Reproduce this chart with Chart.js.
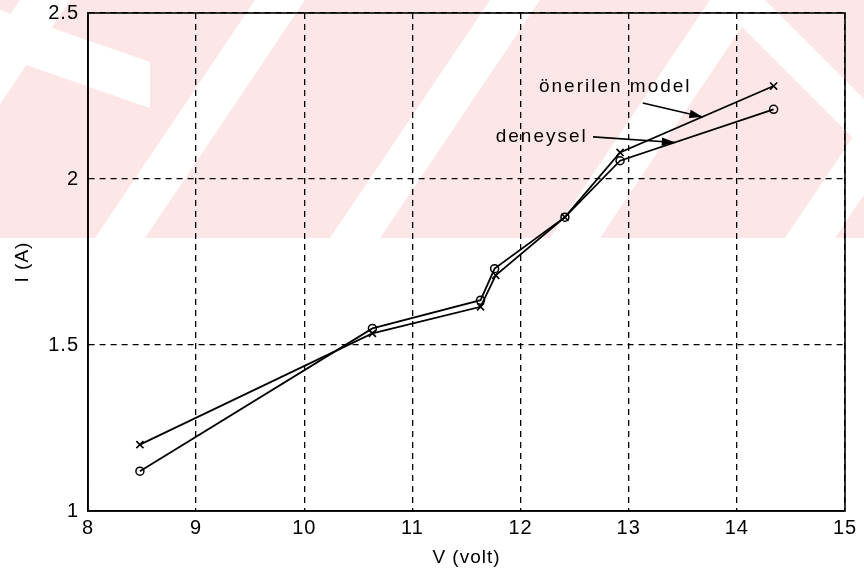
<!DOCTYPE html>
<html>
<head>
<meta charset="utf-8">
<script src="https://cdn.jsdelivr.net/npm/chart.js@4/dist/chart.umd.min.js"></script>
<style>
	html, body { margin: 0; padding: 0; background: #fff; }
	#wrap { width: 864px; height: 573px; }
</style>
</head>
<body>
<div id="wrap"><canvas id="ivChart" width="864" height="573"></canvas></div>
<script>
// values
const vModel = [8.48, 10.63, 11.63, 11.77, 12.41, 12.92, 14.34];
const iModel = [1.20, 1.535, 1.615, 1.71, 1.885, 2.08, 2.28];
const vExp = [8.48, 10.63, 11.63, 11.76, 12.41, 12.92, 14.34];
const iExp = [1.12, 1.55, 1.635, 1.73, 1.885, 2.055, 2.21];

const xTicks = [8, 9, 10, 11, 12, 13, 14, 15];
const yTicks = [1, 1.5, 2, 2.5];

const labelModel = 'önerilen model';
const labelExp = 'deneysel';

const font = 'Liberation Sans, Arial, sans-serif';

const toPoints = (xs, ys) => xs.map((x, i) => ({ x: x, y: ys[i] }));

const poly = (ctx, pts) => {
	ctx.beginPath();
	ctx.moveTo(pts[0][0], pts[0][1]);
	pts.slice(1).forEach((p) => ctx.lineTo(p[0], p[1]));
	ctx.closePath();
	ctx.fill();
};

// pale thesis watermark behind the plot, and the slightly wide letter spacing of the scan
const watermark = {
	id: 'watermark',
	beforeDraw(chart) {
		const ctx = chart.ctx;
		ctx.letterSpacing = '1px';
		ctx.save();
		ctx.fillStyle = '#fde6e8';
		ctx.fillRect(0, 0, chart.width, 238);
		ctx.fillStyle = '#ffffff';
		[-140, 95, 330, 550, 785].forEach((b) => {
			poly(ctx, [[b, 238], [b + 50, 238], [b + 210, 0], [b + 160, 0]]);
		});
		poly(ctx, [[0, 10], [150, 62], [150, 108], [0, 56]]);
		poly(ctx, [[715, 0], [765, 0], [864, 99], [864, 149]]);
		ctx.restore();
	},
};

// full box round the axes plus the two arrows with their texts
const annotations = {
	id: 'annotations',
	afterDatasetsDraw(chart) {
		const ctx = chart.ctx;
		const xs = chart.scales.x;
		const ys = chart.scales.y;
		const a = chart.chartArea;
		ctx.save();
		ctx.strokeStyle = '#000';
		ctx.lineWidth = 1.6;
		ctx.strokeRect(a.left, a.top, a.right - a.left, a.bottom - a.top);

		const arrow = (x0, y0, x1, y1) => {
			const p0 = [xs.getPixelForValue(x0), ys.getPixelForValue(y0)];
			const p1 = [xs.getPixelForValue(x1), ys.getPixelForValue(y1)];
			const ang = Math.atan2(p1[1] - p0[1], p1[0] - p0[0]);
			ctx.beginPath();
			ctx.moveTo(p0[0], p0[1]);
			ctx.lineTo(p1[0], p1[1]);
			ctx.lineWidth = 1.6;
			ctx.stroke();
			ctx.fillStyle = '#000';
			poly(ctx, [
				p1,
				[p1[0] - 14 * Math.cos(ang - 0.3), p1[1] - 14 * Math.sin(ang - 0.3)],
				[p1[0] - 14 * Math.cos(ang + 0.3), p1[1] - 14 * Math.sin(ang + 0.3)],
			]);
		};

		ctx.fillStyle = '#000';
		ctx.font = '19px ' + font;
		ctx.letterSpacing = '2px';
		ctx.textBaseline = 'middle';
		ctx.textAlign = 'left';
		ctx.fillText(labelModel, xs.getPixelForValue(12.17), ys.getPixelForValue(2.277));
		ctx.fillText(labelExp, xs.getPixelForValue(11.77), ys.getPixelForValue(2.127));
		arrow(13.13, 2.229, 13.685, 2.187);
		arrow(12.67, 2.127, 13.43, 2.11);
		ctx.restore();
	},
};

new Chart(document.querySelector('#ivChart'), {
	type: 'scatter',
	data: {
		datasets: [
			{
				label: labelModel,
				data: toPoints(vModel, iModel),
				showLine: true,
				borderColor: '#000',
				borderWidth: 1.8,
				pointStyle: 'crossRot',
				pointRadius: 5,
				pointBorderWidth: 1.6,
				pointBorderColor: '#000',
				tension: 0,
			},
			{
				label: labelExp,
				data: toPoints(vExp, iExp),
				showLine: true,
				borderColor: '#000',
				borderWidth: 1.8,
				pointStyle: 'circle',
				pointRadius: 4,
				pointBorderWidth: 1.5,
				pointBorderColor: '#000',
				pointBackgroundColor: 'rgba(255,255,255,0)',
				tension: 0,
			},
		],
	},
	options: {
		responsive: false,
		animation: false,
		layout: { padding: { top: 13, right: 19, left: 0, bottom: 0 } },
		plugins: {
			legend: { display: false },
			tooltip: { enabled: false },
		},
		scales: {
			x: {
				type: 'linear',
				min: xTicks[0],
				max: xTicks[xTicks.length - 1],
				afterBuildTicks: (scale) => { scale.ticks = xTicks.map((v) => ({ value: v })); },
				afterFit: (scale) => {
					scale.height = 62;
					scale.paddingLeft = 0;
					scale.paddingRight = 0;
				},
				grid: {
					color: '#000',
					lineWidth: 1.3,
					drawTicks: false,
				},
				border: { display: true, color: '#000', width: 1.6, dash: [6, 5] },
				ticks: {
					color: '#000',
					padding: 5,
					font: { family: font, size: 20 },
				},
				title: {
					display: true,
					text: 'V (volt)',
					color: '#000',
					padding: { top: 0, bottom: 4 },
					font: { family: font, size: 19 },
				},
			},
			y: {
				type: 'linear',
				min: yTicks[0],
				max: yTicks[yTicks.length - 1],
				afterBuildTicks: (scale) => { scale.ticks = yTicks.map((v) => ({ value: v })); },
				afterFit: (scale) => {
					scale.width = 88;
					scale.paddingTop = 0;
					scale.paddingBottom = 0;
				},
				grid: {
					color: '#000',
					lineWidth: 1.3,
					drawTicks: false,
				},
				border: { display: true, color: '#000', width: 1.6, dash: [6, 5] },
				ticks: {
					color: '#000',
					padding: 9,
					font: { family: font, size: 20 },
					callback: (v) => String(v),
				},
				title: {
					display: true,
					text: 'I (A)',
					color: '#000',
					padding: { top: 11, bottom: 0 },
					font: { family: font, size: 19 },
				},
			},
		},
	},
	plugins: [watermark, annotations],
});
</script>
</body>
</html>
